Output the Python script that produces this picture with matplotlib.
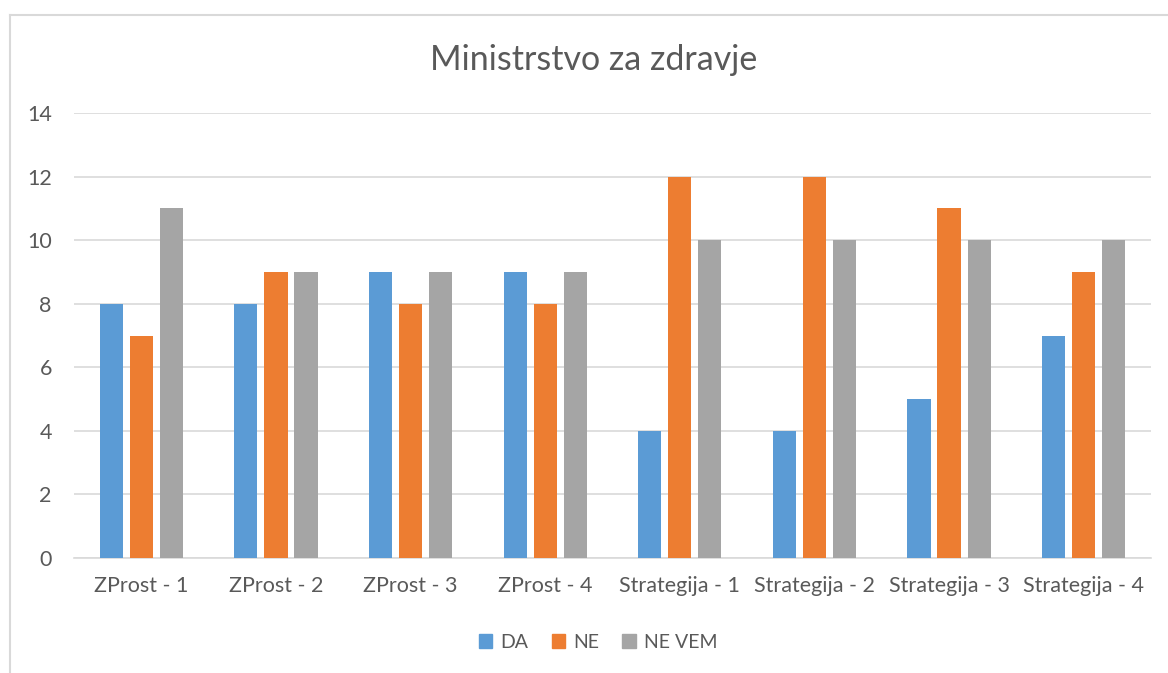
import matplotlib
matplotlib.use("Agg")
import matplotlib.pyplot as plt
import numpy as np
from matplotlib.lines import Line2D

categories = ["ZProst - 1", "ZProst - 2", "ZProst - 3", "ZProst - 4",
              "Strategija - 1", "Strategija - 2", "Strategija - 3", "Strategija - 4"]
da = [8, 8, 9, 9, 4, 4, 5, 7]
ne = [7, 9, 8, 8, 12, 12, 11, 9]
ne_vem = [11, 9, 9, 9, 10, 10, 10, 10]
series_names = ["DA", "NE", "NE VEM"]
colors = ["#5B9BD5", "#ED7D31", "#A5A5A5"]
yticks = [0, 2, 4, 6, 8, 10, 12, 14]

plt.rcParams['font.family'] = ['Lato', 'DejaVu Sans']
W, H = 1168, 673
fig = plt.figure(figsize=(W/100, H/100), dpi=100)
ax = fig.add_axes([74/W, 1-558/H, (1151-74)/W, (558-113)/H])

x = np.arange(len(categories))
bw = 0.172
step = 0.223
for i, (vals, c, n) in enumerate(zip([da, ne, ne_vem], colors, series_names)):
    ax.bar(x + (i-1)*step, vals, width=bw, color=c, label=n, zorder=3)

ax.set_xlim(-0.5, len(categories)-0.5)
ax.set_ylim(0, 14)
ax.set_yticks(yticks)
ax.set_xticks(x)
ax.set_xticklabels(categories)
ax.grid(axis='y', color='#D9D9D9', linewidth=1.2, zorder=0)
for s in ['top', 'right', 'left']:
    ax.spines[s].set_visible(False)
ax.spines['bottom'].set_color('#D9D9D9')
ax.spines['bottom'].set_linewidth(1.2)
ax.tick_params(axis='both', length=0, labelsize=15.5, colors='#595959')
ax.tick_params(axis='x', pad=13)
ax.tick_params(axis='y', pad=16)

fig.text(594/W, 1-60/H, "Ministrstvo za zdravje", ha='center', va='center',
         fontsize=24.5, color='#595959')

handles = [plt.Rectangle((0, 0), 1, 1, color=c) for c in colors]
fig.legend(handles, series_names, loc='center', bbox_to_anchor=(598/W, 1-642/H),
           ncol=3, frameon=False, fontsize=14, labelcolor='#595959',
           handlelength=0.7, handleheight=0.7, handletextpad=0.4, columnspacing=1.2)

# chart frame
fig.add_artist(Line2D([10/W, 1], [1-15/H, 1-15/H], color='#D9D9D9', linewidth=1.5, transform=fig.transFigure))
fig.add_artist(Line2D([10/W, 10/W], [0, 1-15/H], color='#D9D9D9', linewidth=1.5, transform=fig.transFigure))

fig.savefig("out.png", dpi=100)
